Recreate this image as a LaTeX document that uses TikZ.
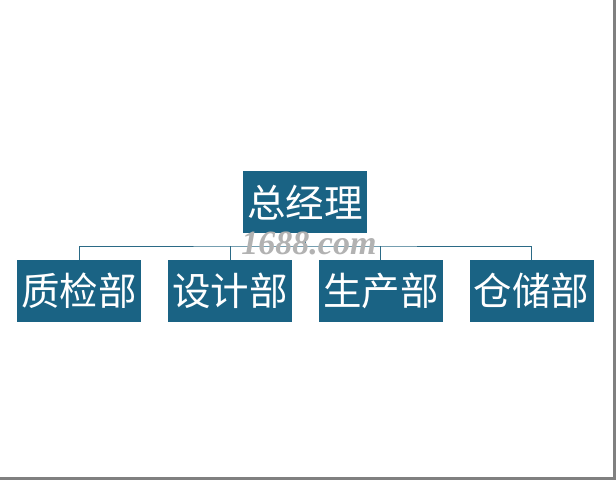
\documentclass[tikz,border=0pt]{standalone}
\usepackage{fontspec}
\newfontfamily\cjk{Noto Sans CJK SC}
\newfontfamily\markfont{Liberation Serif}
\usetikzlibrary{positioning}
\definecolor{BoxBlue}{HTML}{1A6384}
\definecolor{LineBlue}{HTML}{2B6A86}
\definecolor{FrameGray}{HTML}{808080}

\begin{document}
\begin{tikzpicture}[x=1pt,y=1pt,
  dept/.style={fill=BoxBlue, text=white, minimum width=124pt, minimum height=62pt,
    inner sep=0pt, font=\cjk\fontsize{38.5}{38.5}\selectfont},
  link/.style={draw=LineBlue, line width=0.8pt}]

 \useasboundingbox (0,0) rectangle (616,480);

 %%%%%%%%%% Cadre %%%%%%%%%%
 \fill[FrameGray] (613,0) rectangle (616,480);
 \fill[FrameGray] (0,0) rectangle (616,3);

 %%%%%%%%%% Boxes %%%%%%%%%%
 \node[dept] (boss) at (305,277.5) {总经理};
 \node[dept] (zhijian) at (79,189) {质检部};
 \node[dept, right=26.5pt of zhijian] (sheji) {设计部};
 \node[dept, right=26.5pt of sheji] (shengchan) {生产部};
 \node[dept, right=26.5pt of shengchan] (cangchu) {仓储部};

 % Connectors
 \coordinate (bar) at (305,234);
 \draw[link] (boss.south) -- (bar);
 \draw[link] (zhijian.north) |- (bar) -| (cangchu.north);
 \draw[link] (sheji.north) -- (sheji.north |- bar);
 \draw[link] (shengchan.north) -- (shengchan.north |- bar);

 % Watermark
 \node[text=gray!60, font=\markfont\bfseries\itshape\fontsize{34}{34}\selectfont] (mark) at (309,236.5) {1688.com};

\end{tikzpicture}
\end{document}
